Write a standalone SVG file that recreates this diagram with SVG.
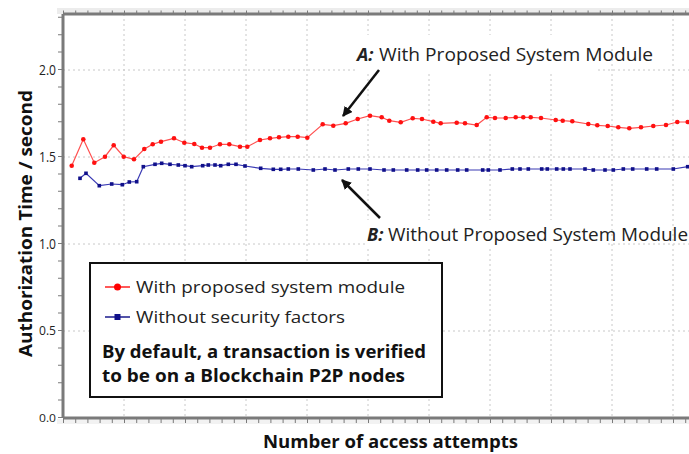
<svg xmlns="http://www.w3.org/2000/svg" xmlns:xlink="http://www.w3.org/1999/xlink" width="689" height="454" viewBox="0 0 689 454">
<style>
.grid{stroke:#c8c8c8;stroke-width:1;stroke-dasharray:2 3;fill:none}
.axis{stroke:#7a7a7a;stroke-width:3;fill:none}
.tick{stroke:#7a7a7a;fill:none}
.tl{font-family:"Open Sans","Noto Sans",sans-serif;fill:#222;text-anchor:end}
.title{font-family:"Open Sans","Noto Sans",sans-serif;font-weight:bold;font-size:17px;fill:#111}
.lab{font-family:"Open Sans","Noto Sans",sans-serif;font-size:17px;fill:#222}
.ann{font-family:"Open Sans","Noto Sans",sans-serif;font-size:18px;fill:#222}
.redl{stroke:#ff5050;stroke-width:1.2;fill:none}
.bluel{stroke:#3a3ab4;stroke-width:1.2;fill:none}
.arrow{stroke:#111;stroke-width:2.5;fill:none}
</style>
<defs>
<circle id="rd" r="2.3" fill="#ff1010"/>
<rect id="bs" x="-1.8" y="-1.8" width="3.6" height="3.6" fill="#10108a"/>
<marker id="ah" viewBox="0 0 10 10" refX="9" refY="5" markerWidth="4" markerHeight="4" orient="auto" markerUnits="strokeWidth">
<path d="M0,0 L10,5 L0,10 z" fill="#111"/>
</marker>
</defs>
<rect x="0" y="0" width="689" height="454" fill="#fff"/>
<!-- plot frame band -->
<rect x="57" y="8" width="632" height="6" fill="#ececec"/>
<rect x="57" y="419" width="632" height="5" fill="#f2f2f2"/>
<!-- grid -->
<g id="grid">
<path class="grid" d="M63,70H689M63,157H689M63,244H689M63,331H689"/>
<path class="grid" d="M124,14V418M185,14V418M246,14V418M307,14V418M368,14V418M429,14V418M490,14V418M551,14V418M612,14V418M673,14V418"/>
</g>
<!-- label backgrounds -->
<rect x="356" y="35" width="242" height="36" fill="#fff"/>
<rect x="365" y="220" width="240" height="26" fill="#fff"/>
<!-- axes -->
<g id="axes">
<path class="axis" d="M63,14H689M63,14V418M63,418H689"/>
<line class="tick" x1="63" y1="12" x2="689" y2="12" stroke-width="3" stroke-dasharray="1 11.2"/>
<line class="tick" x1="63" y1="421" x2="689" y2="421" stroke-width="4" stroke-dasharray="1 11.2"/>
<line class="tick" x1="60" y1="418" x2="60" y2="14" stroke-width="4" stroke-dasharray="1 16.4"/>
</g>
<!-- tick labels -->
<g id="ylabels">
<text class="tl" x="56" y="75" font-size="14" textLength="17" lengthAdjust="spacingAndGlyphs">2.0</text>
<text class="tl" x="56" y="162" font-size="14" textLength="17" lengthAdjust="spacingAndGlyphs">1.5</text>
<text class="tl" x="56" y="249" font-size="14" textLength="17" lengthAdjust="spacingAndGlyphs">1.0</text>
<text class="tl" x="56" y="335" font-size="12.5" textLength="17" lengthAdjust="spacingAndGlyphs">0.5</text>
<text class="tl" x="56" y="422" font-size="11.5" textLength="17" lengthAdjust="spacingAndGlyphs">0.0</text>
</g>
<!-- axis titles -->
<text class="title" x="390.5" y="448" text-anchor="middle" textLength="255" lengthAdjust="spacingAndGlyphs">Number of access attempts</text>
<text class="title" transform="translate(32,223.5) rotate(-90)" x="0" y="0" text-anchor="middle" textLength="267" lengthAdjust="spacingAndGlyphs">Authorization Time / second</text>
<!-- series -->
<g id="series-a">
<polyline class="redl" points="71.7,165.7 83.3,139.3 94.3,162.7 105,156.7 113.7,145.3 123.7,156.7 134,159.3 144.3,149 152.7,144.3 161,141.7 174,138.3 184.3,142.7 194.3,144 202,147.7 210,147.7 220,144.3 229.3,144.3 240,146.7 247.3,146.7 260,140 270,138.3 279,137.3 288.3,136.7 297.7,136.7 307.3,137.7 322.7,124.3 333.3,125.7 345.7,123.3 357.7,119 370,115.7 381.7,117.3 389.3,120.7 400.7,122.3 412.7,118.3 422,119 433.3,121.7 440.7,123.3 456.7,122.7 465,123.3 476.7,125 486.7,117.3 495,118 505.7,118 515.7,117.3 523.3,117.3 530.7,117.3 541,118 555.7,120 562.7,120.7 572.3,121.3 588.3,124 597.3,125.3 607.7,126 618.3,127.3 629.3,128.3 641,127.3 653.3,126 666,125 677.3,122 687.7,122"/>
<use href="#rd" x="71.7" y="165.7"/><use href="#rd" x="83.3" y="139.3"/><use href="#rd" x="94.3" y="162.7"/><use href="#rd" x="105" y="156.7"/><use href="#rd" x="113.7" y="145.3"/><use href="#rd" x="123.7" y="156.7"/><use href="#rd" x="134" y="159.3"/><use href="#rd" x="144.3" y="149"/><use href="#rd" x="152.7" y="144.3"/><use href="#rd" x="161" y="141.7"/><use href="#rd" x="174" y="138.3"/><use href="#rd" x="184.3" y="142.7"/><use href="#rd" x="194.3" y="144"/><use href="#rd" x="202" y="147.7"/><use href="#rd" x="210" y="147.7"/><use href="#rd" x="220" y="144.3"/><use href="#rd" x="229.3" y="144.3"/><use href="#rd" x="240" y="146.7"/><use href="#rd" x="247.3" y="146.7"/><use href="#rd" x="260" y="140"/><use href="#rd" x="270" y="138.3"/><use href="#rd" x="279" y="137.3"/><use href="#rd" x="288.3" y="136.7"/><use href="#rd" x="297.7" y="136.7"/><use href="#rd" x="307.3" y="137.7"/><use href="#rd" x="322.7" y="124.3"/><use href="#rd" x="333.3" y="125.7"/><use href="#rd" x="345.7" y="123.3"/><use href="#rd" x="357.7" y="119"/><use href="#rd" x="370" y="115.7"/><use href="#rd" x="381.7" y="117.3"/><use href="#rd" x="389.3" y="120.7"/><use href="#rd" x="400.7" y="122.3"/><use href="#rd" x="412.7" y="118.3"/><use href="#rd" x="422" y="119"/><use href="#rd" x="433.3" y="121.7"/><use href="#rd" x="440.7" y="123.3"/><use href="#rd" x="456.7" y="122.7"/><use href="#rd" x="465" y="123.3"/><use href="#rd" x="476.7" y="125"/><use href="#rd" x="486.7" y="117.3"/><use href="#rd" x="495" y="118"/><use href="#rd" x="505.7" y="118"/><use href="#rd" x="515.7" y="117.3"/><use href="#rd" x="523.3" y="117.3"/><use href="#rd" x="530.7" y="117.3"/><use href="#rd" x="541" y="118"/><use href="#rd" x="555.7" y="120"/><use href="#rd" x="562.7" y="120.7"/><use href="#rd" x="572.3" y="121.3"/><use href="#rd" x="588.3" y="124"/><use href="#rd" x="597.3" y="125.3"/><use href="#rd" x="607.7" y="126"/><use href="#rd" x="618.3" y="127.3"/><use href="#rd" x="629.3" y="128.3"/><use href="#rd" x="641" y="127.3"/><use href="#rd" x="653.3" y="126"/><use href="#rd" x="666" y="125"/><use href="#rd" x="677.3" y="122"/><use href="#rd" x="687.7" y="122"/>
</g>
<g id="series-b">
<polyline class="bluel" points="80,178.3 86,173.3 99.3,185.7 111.7,184 122.3,184.7 129.3,182 136.7,181.7 143.3,166.7 155,164.3 161.7,163.3 170,164.3 178.3,165 185,165.7 191.7,166.7 202.7,165.7 208.3,165 215,165 220.7,165.7 228.3,164.3 236,164.3 245,166 260.7,168.3 273.3,169.3 280.7,169.3 288.3,169 298.3,169 313.3,170 325,169 335,170 348.3,169 358.3,169 370,169 384,170 393.3,170 406.7,170 417.7,170 426.7,170 436.7,170 446.7,170 457.7,170 466.7,170 482.7,170 488.3,170 500,170 512.3,169 520,169 528.3,169 541.7,169 547.3,169 556.7,169 563.3,169 570,169 585,169 593.3,170 605,170 613.3,170 623.3,169 632.7,169 646.7,169 656.7,169 673.3,169 687.7,166.7"/>
<use href="#bs" x="80" y="178.3"/><use href="#bs" x="86" y="173.3"/><use href="#bs" x="99.3" y="185.7"/><use href="#bs" x="111.7" y="184"/><use href="#bs" x="122.3" y="184.7"/><use href="#bs" x="129.3" y="182"/><use href="#bs" x="136.7" y="181.7"/><use href="#bs" x="143.3" y="166.7"/><use href="#bs" x="155" y="164.3"/><use href="#bs" x="161.7" y="163.3"/><use href="#bs" x="170" y="164.3"/><use href="#bs" x="178.3" y="165"/><use href="#bs" x="185" y="165.7"/><use href="#bs" x="191.7" y="166.7"/><use href="#bs" x="202.7" y="165.7"/><use href="#bs" x="208.3" y="165"/><use href="#bs" x="215" y="165"/><use href="#bs" x="220.7" y="165.7"/><use href="#bs" x="228.3" y="164.3"/><use href="#bs" x="236" y="164.3"/><use href="#bs" x="245" y="166"/><use href="#bs" x="260.7" y="168.3"/><use href="#bs" x="273.3" y="169.3"/><use href="#bs" x="280.7" y="169.3"/><use href="#bs" x="288.3" y="169"/><use href="#bs" x="298.3" y="169"/><use href="#bs" x="313.3" y="170"/><use href="#bs" x="325" y="169"/><use href="#bs" x="335" y="170"/><use href="#bs" x="348.3" y="169"/><use href="#bs" x="358.3" y="169"/><use href="#bs" x="370" y="169"/><use href="#bs" x="384" y="170"/><use href="#bs" x="393.3" y="170"/><use href="#bs" x="406.7" y="170"/><use href="#bs" x="417.7" y="170"/><use href="#bs" x="426.7" y="170"/><use href="#bs" x="436.7" y="170"/><use href="#bs" x="446.7" y="170"/><use href="#bs" x="457.7" y="170"/><use href="#bs" x="466.7" y="170"/><use href="#bs" x="482.7" y="170"/><use href="#bs" x="488.3" y="170"/><use href="#bs" x="500" y="170"/><use href="#bs" x="512.3" y="169"/><use href="#bs" x="520" y="169"/><use href="#bs" x="528.3" y="169"/><use href="#bs" x="541.7" y="169"/><use href="#bs" x="547.3" y="169"/><use href="#bs" x="556.7" y="169"/><use href="#bs" x="563.3" y="169"/><use href="#bs" x="570" y="169"/><use href="#bs" x="585" y="169"/><use href="#bs" x="593.3" y="170"/><use href="#bs" x="605" y="170"/><use href="#bs" x="613.3" y="170"/><use href="#bs" x="623.3" y="169"/><use href="#bs" x="632.7" y="169"/><use href="#bs" x="646.7" y="169"/><use href="#bs" x="656.7" y="169"/><use href="#bs" x="673.3" y="169"/><use href="#bs" x="687.7" y="166.7"/>
</g>
<!-- annotations -->
<g id="annotation-a">
<text class="ann" x="357" y="61"><tspan font-weight="bold" font-style="italic">A:</tspan> <tspan x="379" textLength="274" lengthAdjust="spacingAndGlyphs">With Proposed System Module</tspan></text>
</g>
<g id="annotation-b">
<text class="ann" x="367" y="241"><tspan font-weight="bold" font-style="italic">B:</tspan> <tspan x="388" textLength="300" lengthAdjust="spacingAndGlyphs">Without Proposed System Module</tspan></text>
</g>
<g id="connectors">
<line class="arrow" x1="379" y1="70" x2="343" y2="116" marker-end="url(#ah)"/>
<line class="arrow" x1="380" y1="218" x2="342" y2="180" marker-end="url(#ah)"/>
</g>
<!-- legend -->
<g id="legend">
<rect x="90" y="263" width="352" height="134" fill="#fff" stroke="#111" stroke-width="2"/>
<line x1="105" y1="287" x2="130" y2="287" stroke="#ff2020" stroke-width="1.5"/>
<circle cx="117.5" cy="287" r="3.5" fill="#ff0000"/>
<text class="lab" x="136" y="293" textLength="269" lengthAdjust="spacingAndGlyphs">With proposed system module</text>
<line x1="105" y1="317" x2="130" y2="317" stroke="#1a1a8c" stroke-width="1.5"/>
<rect x="114.5" y="314" width="6" height="6" fill="#10108a"/>
<text class="lab" x="136" y="323" textLength="209" lengthAdjust="spacingAndGlyphs">Without security factors</text>
<text class="title" x="102" y="358" textLength="324" lengthAdjust="spacingAndGlyphs">By default, a transaction is verified</text>
<text class="title" x="102" y="382" textLength="303" lengthAdjust="spacingAndGlyphs">to be on a Blockchain P2P nodes</text>
</g>
</svg>
